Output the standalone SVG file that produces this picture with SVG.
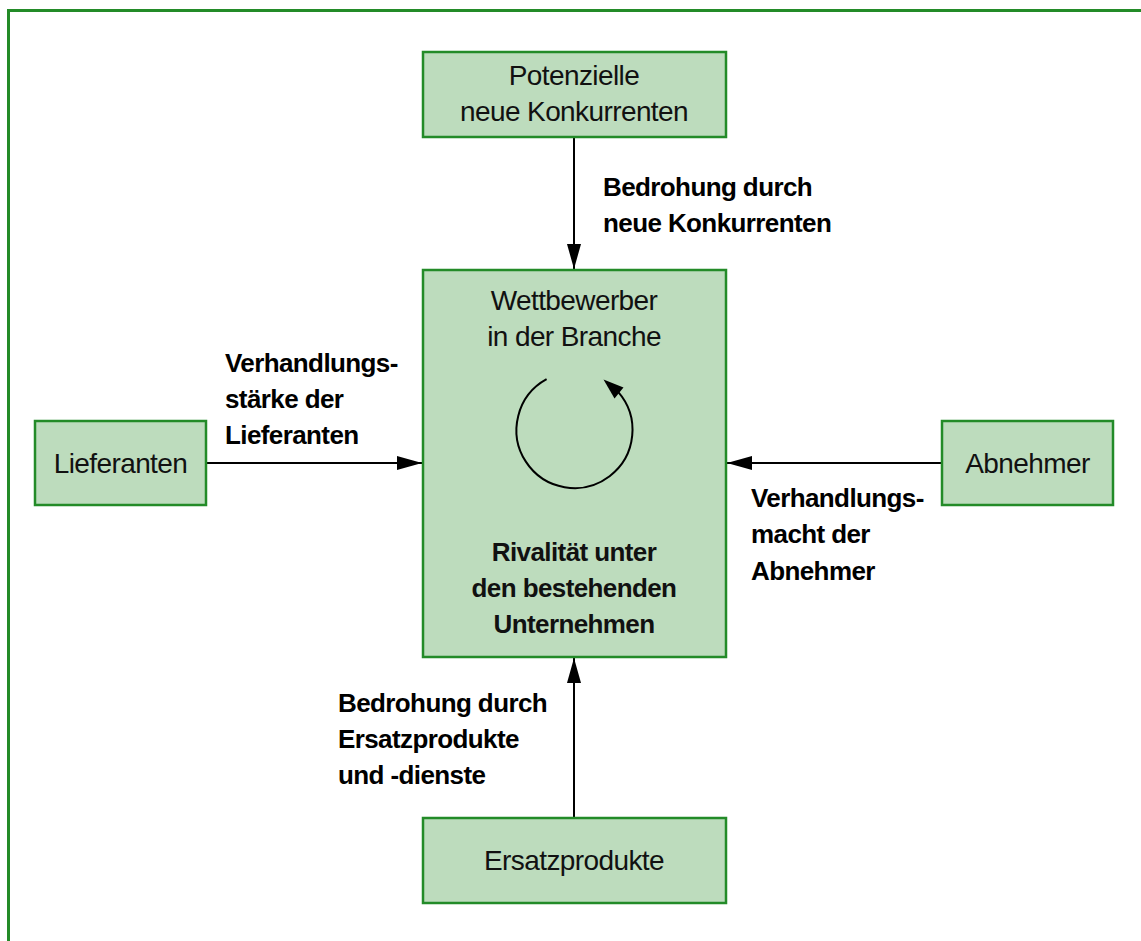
<svg xmlns="http://www.w3.org/2000/svg" width="1141" height="941" viewBox="0 0 1141 941">
  <style>
    .frame { fill: none; stroke: #238b28; stroke-width: 3; }
    .box { fill: #bddcbd; stroke: #238b28; stroke-width: 2.5; }
    .node-text { font-family: "Liberation Sans", Arial, sans-serif; font-size: 28px; letter-spacing: -0.6px; fill: #111; text-anchor: middle; }
    .label { font-family: "Liberation Sans", Arial, sans-serif; font-size: 26px; letter-spacing: -0.6px; font-weight: bold; fill: #000; }
    .label-c { font-family: "Liberation Sans", Arial, sans-serif; font-size: 26px; letter-spacing: -0.6px; font-weight: bold; fill: #111; text-anchor: middle; }
    .conn { fill: none; stroke: #000; stroke-width: 2; }
  </style>
  <defs>
    <marker id="arrow" markerUnits="userSpaceOnUse" markerWidth="25" markerHeight="14" refX="25" refY="7" orient="auto">
      <path d="M0,0 L25,7 L0,14 z" fill="#000"/>
    </marker>
  </defs>

  <rect x="0" y="0" width="1141" height="941" fill="#fff"/>

  <!-- outer frame: top and left edges only -->
  <path class="frame" d="M8.5,941 L8.5,10.5 L1141,10.5"/>

  <g id="connectors">
    <line class="conn" x1="574" y1="137" x2="574" y2="269" marker-end="url(#arrow)"/>
    <line class="conn" x1="206" y1="463" x2="422" y2="463" marker-end="url(#arrow)"/>
    <line class="conn" x1="942" y1="463" x2="727" y2="463" marker-end="url(#arrow)"/>
    <line class="conn" x1="574" y1="818" x2="574" y2="658" marker-end="url(#arrow)"/>
  </g>

  <g id="node-new-entrants">
    <rect class="box" x="423" y="52" width="303" height="85"/>
    <text class="node-text" x="574" y="85">Potenzielle</text>
    <text class="node-text" x="574" y="121">neue Konkurrenten</text>
  </g>

  <g id="node-industry">
    <rect class="box" x="423" y="270" width="303" height="387"/>
    <text class="node-text" x="574" y="310">Wettbewerber</text>
    <text class="node-text" x="574" y="346">in der Branche</text>
    <!-- rotation symbol -->
    <path class="conn" d="M546.6,379.2 A58,58 0 1 0 617.9,391.6"/>
    <polygon points="603.5,379.5 623.5,387.5 614.5,398.5" fill="#000"/>
    <text class="label-c" x="574" y="561">Rivalität unter</text>
    <text class="label-c" x="574" y="597">den bestehenden</text>
    <text class="label-c" x="574" y="633">Unternehmen</text>
  </g>

  <g id="node-suppliers">
    <rect class="box" x="35" y="421" width="171" height="84"/>
    <text class="node-text" x="120.5" y="473">Lieferanten</text>
  </g>

  <g id="node-buyers">
    <rect class="box" x="942" y="421" width="171" height="84"/>
    <text class="node-text" x="1027.5" y="473">Abnehmer</text>
  </g>

  <g id="node-substitutes">
    <rect class="box" x="423" y="818" width="303" height="85"/>
    <text class="node-text" x="574" y="870">Ersatzprodukte</text>
  </g>

  <g id="labels">
    <text class="label" x="603" y="196">Bedrohung durch</text>
    <text class="label" x="603" y="232">neue Konkurrenten</text>

    <text class="label" x="225" y="372">Verhandlungs-</text>
    <text class="label" x="225" y="408">stärke der</text>
    <text class="label" x="225" y="444">Lieferanten</text>

    <text class="label" x="751" y="507">Verhandlungs-</text>
    <text class="label" x="751" y="543">macht der</text>
    <text class="label" x="751" y="580">Abnehmer</text>

    <text class="label" x="338" y="712">Bedrohung durch</text>
    <text class="label" x="338" y="748">Ersatzprodukte</text>
    <text class="label" x="338" y="784">und -dienste</text>
  </g>
</svg>
